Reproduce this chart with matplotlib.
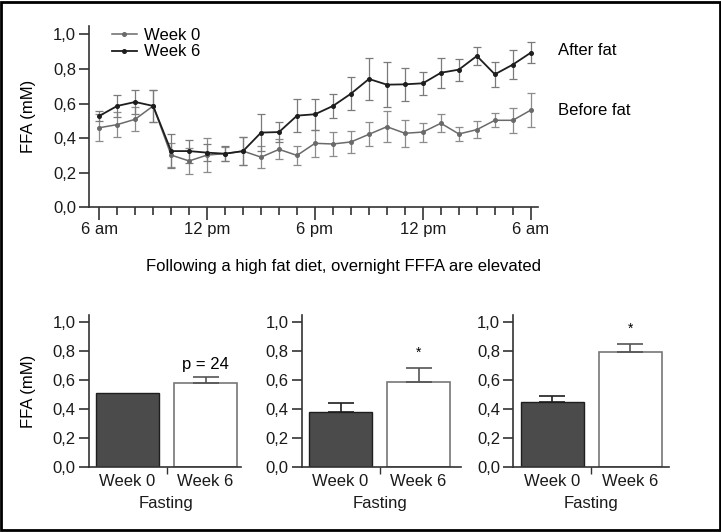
import numpy as np
import matplotlib
matplotlib.use("Agg")
from matplotlib import pyplot as plt
from matplotlib.patches import Rectangle
from matplotlib.lines import Line2D

plt.rcParams['font.family'] = ['Liberation Sans', 'DejaVu Sans']
plt.rcParams['font.size'] = 12

# ---- data: overnight FFA profile (hours from 6 am) ----
hours = np.arange(25)
wk0 = [0.46, 0.478, 0.509, 0.586, 0.302, 0.268, 0.302, 0.31, 0.325, 0.29, 0.335, 0.30,
       0.37, 0.366, 0.378, 0.422, 0.466, 0.428, 0.435, 0.486, 0.424, 0.449, 0.503, 0.503, 0.562]
wk0_err = [0.077, 0.073, 0.07, 0.09, 0.07, 0.075, 0.096, 0.04, 0.08, 0.062, 0.058, 0.056,
           0.077, 0.068, 0.065, 0.069, 0.09, 0.079, 0.055, 0.053, 0.042, 0.048, 0.04, 0.073, 0.098]
wk6 = [0.528, 0.586, 0.609, 0.586, 0.325, 0.325, 0.316, 0.31, 0.325, 0.432, 0.435, 0.53,
       0.538, 0.586, 0.657, 0.742, 0.709, 0.711, 0.717, 0.778, 0.796, 0.875, 0.769, 0.825, 0.894]
wk6_err = [0.031, 0.062, 0.07, 0.09, 0.096, 0.067, 0.048, 0.045, 0.08, 0.108, 0.058, 0.096,
           0.09, 0.07, 0.096, 0.123, 0.13, 0.096, 0.067, 0.087, 0.064, 0.053, 0.073, 0.085, 0.06]
time_ticks = [0, 6, 12, 18, 24]
time_labels = ['6 am', '12 pm', '6 pm', '12 pm', '6 am']
yticks = [0.0, 0.2, 0.4, 0.6, 0.8, 1.0]
ylabels = ['0,0', '0,2', '0,4', '0,6', '0,8', '1,0']

# ---- data: fasting bars, three panels ----
groups = ['Week 0', 'Week 6']
bar_means = [[0.51, 0.579], [0.377, 0.584], [0.446, 0.795]]
bar_errs = [[0.0, 0.044], [0.067, 0.101], [0.046, 0.051]]
bar_notes = [('p = 24', 0.71), ('*', 0.79), ('*', 0.955)]

W, H = 721, 532
fig = plt.figure(figsize=(W / 100, H / 100), dpi=100)
fig.patches.append(Rectangle((0.002, 0.003), 0.996, 0.994, transform=fig.transFigure,
                             fill=False, edgecolor='black', linewidth=2))

def px(x0, y_top, x1, y_bot):
    return [x0 / W, 1 - y_bot / H, (x1 - x0) / W, (y_bot - y_top) / H]

spine_c = '#333333'
c0, c6 = '#6a6a6a', '#1e1e1e'

def style(ax):
    for s in ['top', 'right']:
        ax.spines[s].set_visible(False)
    for s in ['left', 'bottom']:
        ax.spines[s].set_color(spine_c)
        ax.spines[s].set_linewidth(1.2)
    ax.tick_params(axis='y', length=7.5, width=1.2, color=spine_c, labelcolor='#1a1a1a', pad=2)
    ax.set_yticks(yticks)
    ax.set_yticklabels(ylabels)
    ax.set_ylim(0, 1.05)

# ---- top line chart ----
ax = fig.add_axes(px(89.3, 25.7, 538, 207.3))
style(ax)
ax.errorbar(hours, wk0, yerr=wk0_err, color=c0, ecolor='#8c8c8c', elinewidth=0.9,
            capsize=2.8, capthick=0.9, marker='o', markersize=2.6, linewidth=1.1)
ax.errorbar(hours, wk6, yerr=wk6_err, color=c6, ecolor='#7a7a7a', elinewidth=0.9,
            capsize=2.8, capthick=0.9, marker='o', markersize=2.6, linewidth=1.3)
ax.set_xlim(-0.55, 24.4)
ax.set_xticks(time_ticks)
ax.set_xticklabels(time_labels)
ax.set_xticks(hours, minor=True)
ax.tick_params(axis='x', which='major', length=9.5, width=1.2, color=spine_c, labelcolor='#1a1a1a', pad=1)
ax.tick_params(axis='x', which='minor', length=6, width=1.2, color=spine_c)
ax.set_ylabel('FFA (mM)', labelpad=12)
handles = [Line2D([], [], color=c0, marker='o', markersize=2.6, linewidth=1.1),
           Line2D([], [], color=c6, marker='o', markersize=2.6, linewidth=1.3)]
ax.legend(handles, ['Week 0', 'Week 6'], loc='upper left', bbox_to_anchor=(0.035, 1.025),
          frameon=False, handlelength=1.5, handletextpad=0.45, labelspacing=0.1,
          borderaxespad=0, borderpad=0.4)
ax.text(25.5, 0.905, 'After fat', va='center', ha='left', clip_on=False)
ax.text(25.5, 0.56, 'Before fat', va='center', ha='left', clip_on=False)

fig.text(343.5 / W, 1 - 266 / H, 'Following a high fat diet, overnight FFFA are elevated',
         ha='center', va='center')

# ---- bottom bar charts ----
panel_left = [88.5, 301.5, 513.2]
panel_xmax = [1.45, 1.545, 1.497]
for i in range(3):
    right = panel_left[i] + (panel_xmax[i] + 0.5) * 78
    bx = fig.add_axes(px(panel_left[i], 314.75, right, 467))
    style(bx)
    bx.bar([0], [bar_means[i][0]], width=0.808, color='#4b4b4b', edgecolor='#1e1e1e', linewidth=1.0)
    bx.bar([1], [bar_means[i][1]], width=0.808, color='white', edgecolor='#777777', linewidth=1.2)
    if bar_errs[i][0] > 0:
        bx.errorbar([0], [bar_means[i][0]], yerr=[[0], [bar_errs[i][0]]], fmt='none',
                    ecolor='#1e1e1e', elinewidth=1.2, capsize=9.5, capthick=1.2)
    bx.errorbar([1], [bar_means[i][1]], yerr=[[0], [bar_errs[i][1]]], fmt='none',
                ecolor='#555555', elinewidth=1.2, capsize=9.5, capthick=1.2)
    bx.set_xlim(-0.5, panel_xmax[i])
    bx.set_xticks([0.5])
    bx.set_xticklabels([''])
    bx.tick_params(axis='x', length=5, width=1.0, color=spine_c)
    for j, g in enumerate(groups):
        bx.text(j, -0.045, g, ha='center', va='top', color='#1a1a1a')
    bx.text(0.5, -0.2, 'Fasting', ha='center', va='top', color='#1a1a1a')
    note, ny = bar_notes[i]
    bx.text(1, ny, note, ha='center', va='center', fontsize=12 if note != '*' else 10)
    if i == 0:
        bx.set_ylabel('FFA (mM)', labelpad=12)

fig.savefig('out.png', dpi=100)
